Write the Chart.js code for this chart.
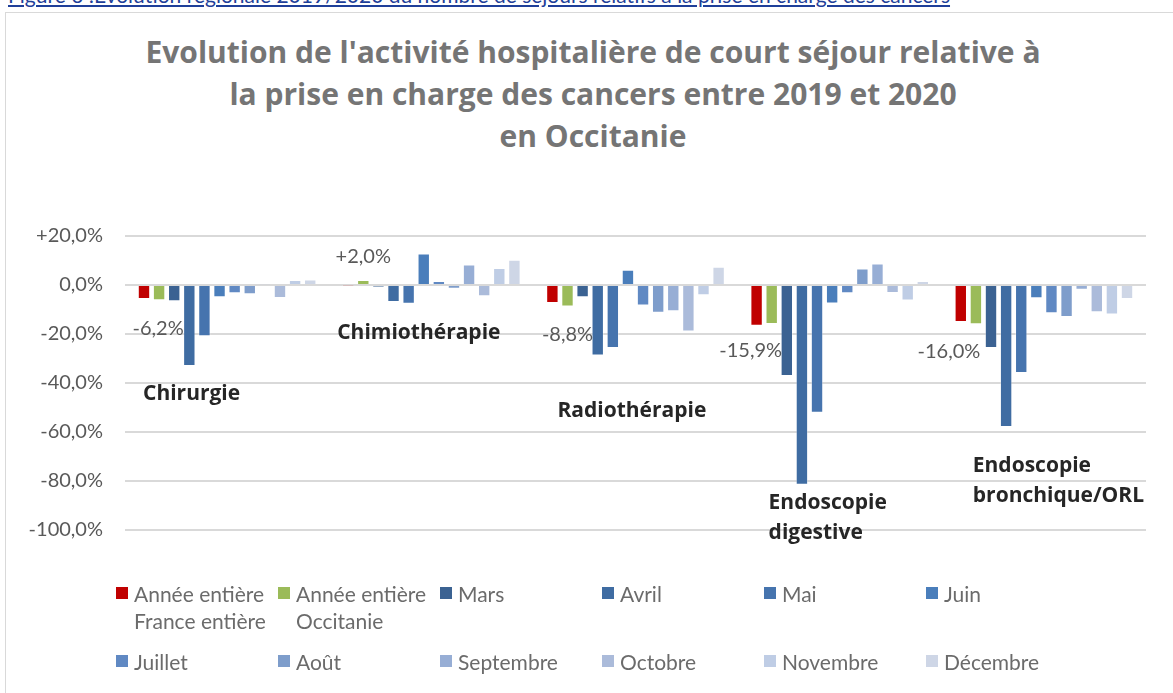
<!DOCTYPE html>
<html lang="fr">
<head>
<meta charset="utf-8">
<script src="https://cdn.jsdelivr.net/npm/chart.js@4.4.0/dist/chart.umd.min.js"></script>
<style>
  html, body { margin: 0; padding: 0; background: #fff; overflow: hidden; }
  body { width: 1173px; height: 693px; position: relative; font-family: Lato, "Open Sans", sans-serif; }
  #caption { position: absolute; left: 8px; top: -18px; font-size: 21px; line-height: 25px; color: #1F3F99; text-decoration: underline; white-space: nowrap; }
  #frame { position: absolute; left: 5px; top: 12px; width: 1300px; height: 800px; border: 1px solid #D9D9D9; }
  #title { position: absolute; left: 0; width: 1186px; top: 31px; text-align: center; font-family: "Open Sans", sans-serif; font-weight: bold; font-size: 30px; line-height: 42px; color: #757575; }
  #chart { position: absolute; left: 0; top: 0; }
  #legend { position: absolute; left: 116px; top: 580px; display: grid; grid-template-columns: repeat(6, 162px); row-gap: 14px; }
  .item { display: flex; align-items: flex-start; font-size: 21px; line-height: 27px; color: #6b6b6b; white-space: pre-line; }
  .box { width: 12px; height: 12px; margin: 7px 6px 0 0; flex: none; }
</style>
</head>
<body>
<div id="caption">Figure 6 :Evolution régionale 2019/2020 du nombre de séjours relatifs à la prise en charge des cancers</div>
<div id="frame"></div>
<div id="title">Evolution de l'activité hospitalière de court séjour relative à<br>la prise en charge des cancers entre 2019 et 2020<br>en Occitanie</div>
<canvas id="chart" width="1173" height="693"></canvas>
<div id="legend"></div>
<script>
var categories = ["Chirurgie", "Chimiothérapie", "Radiothérapie", "Endoscopie digestive", "Endoscopie bronchique/ORL"];
var seriesNames = ["Année entière\nFrance entière", "Année entière\nOccitanie", "Mars", "Avril", "Mai", "Juin",
                   "Juillet", "Août", "Septembre", "Octobre", "Novembre", "Décembre"];

var franceEntiere = [-5.7, -0.2, -7.3, -16.6, -15.1];
var occitanie     = [-6.2, 2.0, -8.8, -15.9, -16.0];
var mars          = [-6.6, -0.9, -5.0, -37.1, -25.7];
var avril         = [-33.1, -6.9, -28.8, -81.5, -58.0];
var mai           = [-20.9, -7.7, -25.7, -52.1, -35.9];
var juin          = [-5.0, 12.9, 6.2, -7.5, -5.4];
var juillet       = [-3.4, 1.6, -8.4, -3.4, -11.5];
var aout          = [-3.8, -1.5, -11.3, 6.7, -13.1];
var septembre     = [0.3, 8.4, -10.7, 8.8, -1.9];
var octobre       = [-5.3, -4.6, -19.0, -3.3, -11.1];
var novembre      = [2.0, 6.9, -4.2, -6.3, -12.0];
var decembre      = [2.2, 10.3, 7.5, 1.6, -5.7];

var yTicks = [20, 0, -20, -40, -60, -80, -100];

var colors = ["#C00000", "#9BBB59", "#3B6292", "#3F6CA2", "#4674AE", "#4A7EBB",
              "#6089C3", "#7E9DCB", "#97AED5", "#ABBBDA", "#BFCDE5", "#CED6E6"];
var allSeries = [franceEntiere, occitanie, mars, avril, mai, juin, juillet, aout, septembre, octobre, novembre, decembre];

function fmt(v) {
    var s = Math.abs(v).toFixed(1).replace(".", ",") + "%";
    if (v > 0) return "+" + s;
    if (v < 0) return "-" + s;
    return s;
}

// labels drawn on the plot: category names and the Occitanie values
var notes = {
    cats: [
        { lines: ["Chirurgie"], dx: 18, y: -44.3 },
        { lines: ["Chimiothérapie"], dx: 8, y: -19.7 },
        { lines: ["Radiothérapie"], dx: 24, y: -51.6 },
        { lines: ["Endoscopie", "digestive"], dx: 31, y: -89.1 },
        { lines: ["Endoscopie", "bronchique/ORL"], dx: 31, y: -74.0 }
    ],
    vals: [
        { dx: -1, y: -17.7 },
        { dx: 0, y: 11.5 },
        { dx: 0, y: -20.2 },
        { dx: -21, y: -26.8 },
        { dx: -27, y: -27.2 }
    ]
};

var notesPlugin = {
    id: "notes",
    afterDatasetsDraw: function (chart) {
        var ctx = chart.ctx;
        var xs = chart.scales.x, ys = chart.scales.y;
        var catW = chart.chartArea.width / categories.length;
        ctx.save();
        ctx.textBaseline = "middle";
        ctx.textAlign = "left";
        ctx.font = "bold 21px 'Open Sans'";
        ctx.fillStyle = "#262626";
        notes.cats.forEach(function (n, i) {
            var x0 = xs.getPixelForValue(i) - catW / 2 + n.dx;
            var y0 = ys.getPixelForValue(n.y);
            n.lines.forEach(function (t, k) {
                ctx.fillText(t, x0, y0 + k * 30);
            });
        });
        ctx.textAlign = "center";
        ctx.font = "20px Lato";
        ctx.fillStyle = "#595959";
        var meta = chart.getDatasetMeta(1);
        notes.vals.forEach(function (n, i) {
            ctx.fillText(fmt(occitanie[i]), meta.data[i].x + n.dx, ys.getPixelForValue(n.y));
        });
        ctx.restore();
    }
};

var datasets = allSeries.map(function (arr, i) {
    return {
        label: seriesNames[i],
        data: arr,
        backgroundColor: colors[i],
        borderColor: "rgba(255,255,255,0.35)",
        borderWidth: 1,
        barPercentage: 0.82,
        categoryPercentage: 0.888
    };
});

new Chart(document.getElementById("chart"), {
    type: "bar",
    data: { labels: categories, datasets: datasets },
    options: {
        responsive: false,
        animation: false,
        devicePixelRatio: 1,
        layout: { padding: { top: 236, bottom: 163, left: 0, right: 27 } },
        plugins: {
            legend: { display: false },
            tooltip: { enabled: false }
        },
        scales: {
            x: { display: false },
            y: {
                min: -100,
                max: 20,
                afterFit: function (s) { s.width = 125; },
                afterBuildTicks: function (s) { s.ticks = yTicks.map(function (v) { return { value: v }; }); },
                border: { display: false },
                grid: { color: "#D9D9D9", lineWidth: 2, drawTicks: false },
                ticks: {
                    padding: 22,
                    color: "#595959",
                    font: { family: "Lato", size: 20 },
                    callback: function (v) { return fmt(v); }
                }
            }
        }
    },
    plugins: [notesPlugin]
});

var legend = document.getElementById("legend");
seriesNames.forEach(function (name, i) {
    var el = document.createElement("div");
    el.className = "item";
    var box = document.createElement("span");
    box.className = "box";
    box.style.background = colors[i];
    var txt = document.createElement("span");
    txt.textContent = name;
    el.appendChild(box);
    el.appendChild(txt);
    legend.appendChild(el);
});
</script>
</body>
</html>
